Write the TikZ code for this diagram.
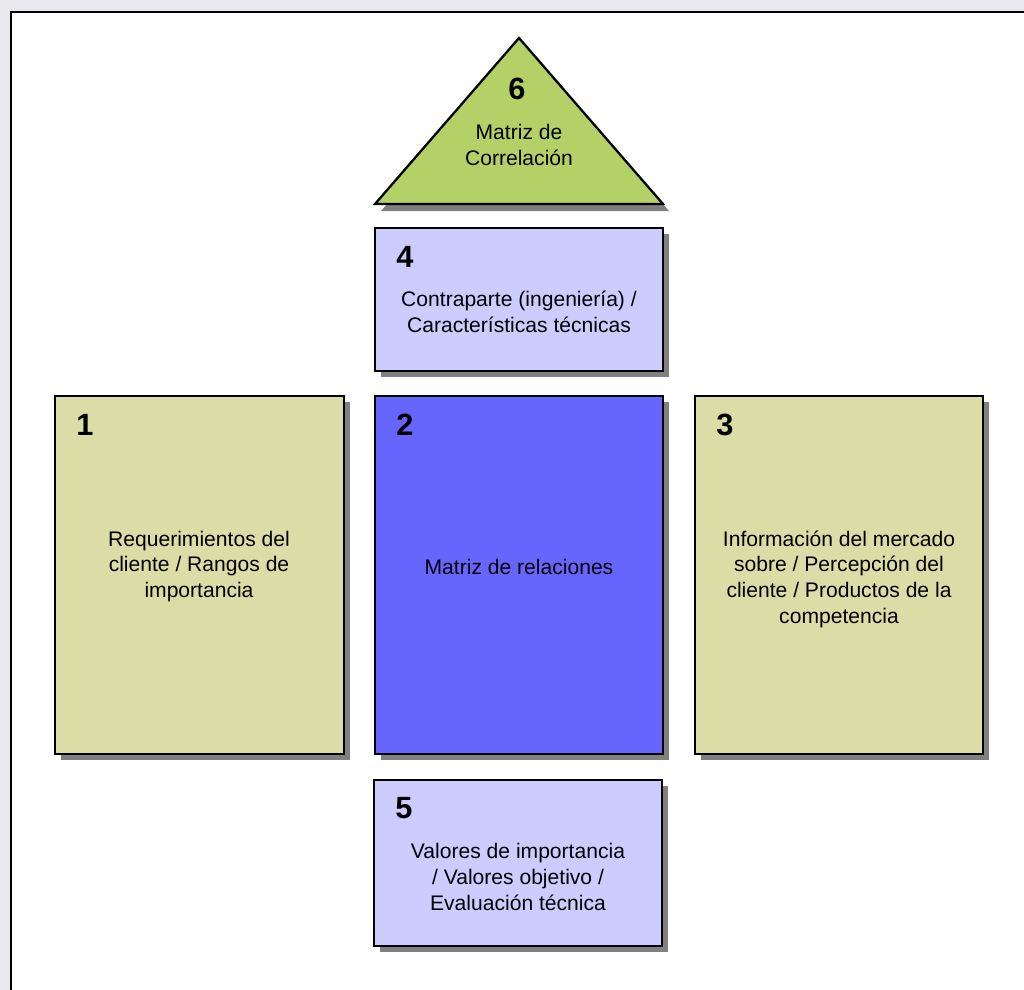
\documentclass[tikz,border=0pt]{standalone}
\usepackage{fontspec}
\setmainfont{Liberation Sans}
\definecolor{pagegray}{HTML}{E9E9ED}
\definecolor{trigreen}{HTML}{B3D166}
\definecolor{lilac}{HTML}{CCCCFF}
\definecolor{blueviolet}{HTML}{6666FF}
\definecolor{khaki}{HTML}{DCDCA6}
\definecolor{shadowgray}{HTML}{808080}
\tikzset{
  panel/.style={draw=black, line width=1.3pt, rectangle, inner sep=0pt},
  num/.style={font=\fontsize{17.5}{19}\selectfont\bfseries, inner sep=0pt},
  body/.style={font=\fontsize{12}{14.6}\selectfont, align=center, inner sep=0pt}
}
\begin{document}
\begin{tikzpicture}[x=0.02cm, y=-0.02cm]
  \useasboundingbox (0,0) rectangle (1024,990);
  % page background and frame
  \fill[pagegray] (0,0) rectangle (1024,990);
  \fill[white] (11,12) rectangle (1024,990);
  \draw[line width=1.4pt] (11,990) -- (11,12) -- (1024,12);

  % drop shadows
  \fill[shadowgray] (381,211) -- (525,45) -- (669,211) -- cycle;
  \foreach \a/\b/\c/\d in {375/228/663/371, 55/396/344/754, 375/396/663/754, 695/396/983/754, 374/780/662/946}
    \fill[shadowgray] (\a+6,\b+6) rectangle (\c+6,\d+6);

  % 6: correlation roof
  \coordinate (apex) at (519,38);
  \coordinate (bl) at (375,204);
  \coordinate (br) at (663,204);
  \draw[fill=trigreen, line width=1.3pt, line join=miter] (apex) -- (br) -- (bl) -- cycle;
  \node[num] (n6) at (517,89) {6};
  \node[body] (t6) at (519,145) {Matriz de\\Correlación};

  % 4: technical characteristics
  \node[panel, fill=lilac, minimum width=288*0.02cm, minimum height=143*0.02cm] (b4) at (519,299.5) {};
  \node[num] (n4) at (405,257) {4};
  \node[body] (t4) at (519,312) {Contraparte (ingeniería) /\\Características técnicas};

  % 1: customer requirements
  \node[panel, fill=khaki, minimum width=289*0.02cm, minimum height=358*0.02cm] (b1) at (199.5,575) {};
  \node[num] (n1) at (85,425) {1};
  \node[body] (t1) at (199,566.5) {Requerimientos del\\cliente / Rangos de\\importancia};

  % 2: relationship matrix
  \node[panel, fill=blueviolet, minimum width=288*0.02cm, minimum height=358*0.02cm] (b2) at (519,575) {};
  \node[num] (n2) at (405,425) {2};
  \node[body] (t2) at (519,567) {Matriz de relaciones};

  % 3: market information
  \node[panel, fill=khaki, minimum width=288*0.02cm, minimum height=358*0.02cm] (b3) at (839,575) {};
  \node[num] (n3) at (725,425) {3};
  \node[body] (t3) at (839,579) {Información del mercado\\sobre / Percepción del\\cliente / Productos de la\\competencia};

  % 5: target values
  \node[panel, fill=lilac, minimum width=288*0.02cm, minimum height=166*0.02cm] (b5) at (518,863) {};
  \node[num] (n5) at (404,808) {5};
  \node[body] (t5) at (518,877) {Valores de importancia\\/ Valores objetivo /\\Evaluación técnica};
\end{tikzpicture}
\end{document}
